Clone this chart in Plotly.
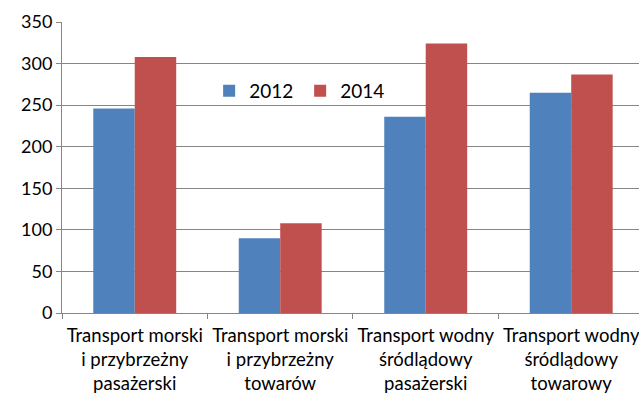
import plotly.graph_objects as go

categories = [
    "Transport morski<br>i przybrzeżny<br>pasażerski",
    "Transport morski<br>i przybrzeżny<br>towarów",
    "Transport wodny<br>śródlądowy<br>pasażerski",
    "Transport wodny<br>śródlądowy<br>towarowy",
]
values_2012 = [246, 90, 236, 265]
values_2014 = [308, 108, 324, 287]
y_ticks = [0, 50, 100, 150, 200, 250, 300, 350]

FONT = "Lato"

fig = go.Figure()
fig.add_trace(go.Bar(name="2012", x=categories, y=values_2012,
                     marker=dict(color="#4F81BD", line=dict(width=0))))
fig.add_trace(go.Bar(name="2014", x=categories, y=values_2014,
                     marker=dict(color="#C0504D", line=dict(width=0))))

fig.update_layout(
    width=639,
    height=398,
    margin=dict(l=62, r=0, t=22, b=85),
    paper_bgcolor="white",
    plot_bgcolor="white",
    barmode="group",
    bargap=0.43,
    bargroupgap=0,
    font=dict(family=FONT, size=16, color="black"),
    showlegend=True,
    legend=dict(
        orientation="h",
        x=0.255,
        y=0.763,
        xanchor="left",
        yanchor="middle",
        bgcolor="rgba(0,0,0,0)",
        font=dict(family=FONT, size=19, color="black"),
        itemwidth=30,
        entrywidth=46,
        tracegroupgap=0,
    ),
    xaxis=dict(
        range=[-0.5, 3.466],
        showgrid=False,
        showline=True,
        linecolor="#868686",
        linewidth=1,
        ticks="outside",
        tickson="boundaries",
        ticklen=5,
        tickcolor="#868686",
        tickangle=0,
        automargin=False,
        ticklabelstandoff=6,
        tickfont=dict(family=FONT, size=18.5, color="black"),
    ),
    yaxis=dict(
        range=[0, 350],
        tickvals=y_ticks,
        showgrid=True,
        gridcolor="#868686",
        gridwidth=1,
        showline=True,
        linecolor="#868686",
        linewidth=1,
        ticks="outside",
        ticklen=5,
        tickcolor="#868686",
        automargin=False,
        tickfont=dict(family=FONT, size=18, color="black"),
        zeroline=False,
    ),
)

fig.write_html("out.html")
